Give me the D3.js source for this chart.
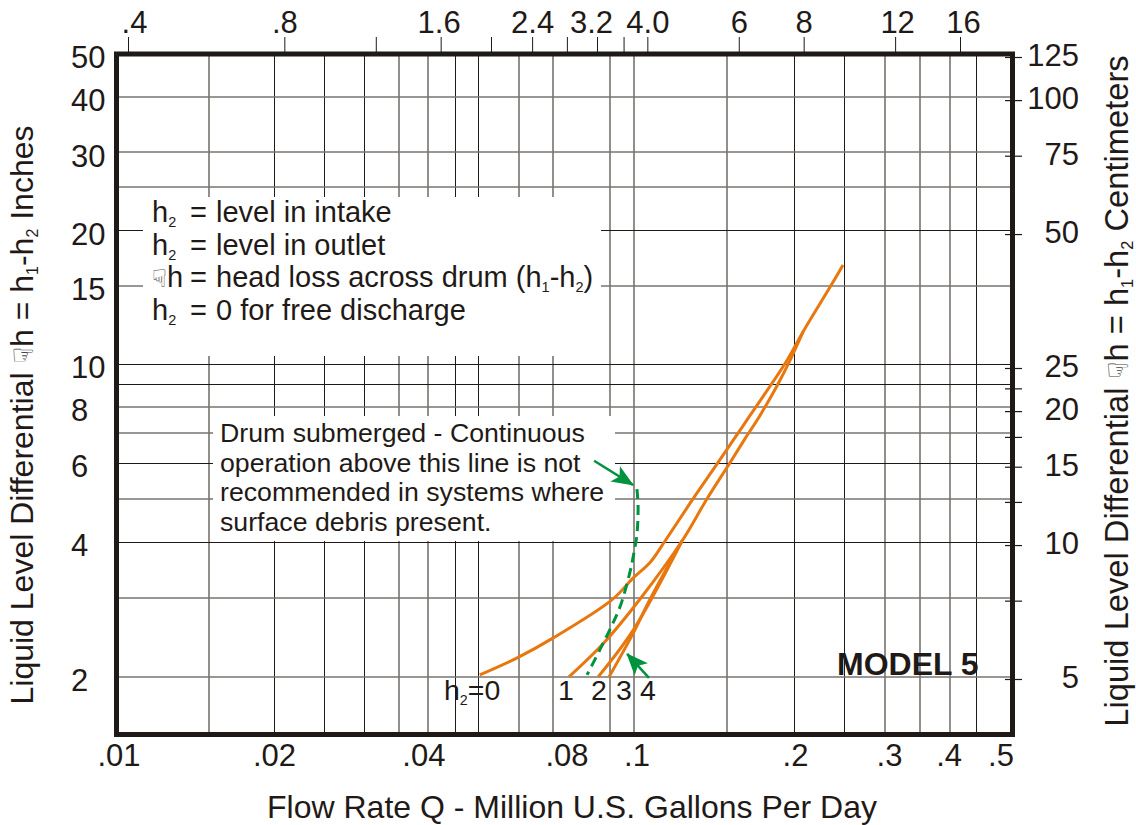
<!DOCTYPE html>
<html>
<head>
<meta charset="utf-8">
<script src="https://cdn.jsdelivr.net/npm/d3@7"></script>
<style>
	html, body { margin: 0; padding: 0; background: #fff; }
	svg { display: block; }
	text { font-family: "Liberation Sans", Arial, sans-serif; fill: #1f1a17; }
	.axis .domain { display: none; }
</style>
</head>
<body>
<div id="chart"></div>
<script>
// Values. x is Million U.S. Gallons Per Day, y is inches.
const h0Flow = [.0504, .0598, .0698, .0908, .1, .1074, .1141, .1293, .144, .1654, .1924, .21, .2358, .2488];
const h0Head = [2.02, 2.21, 2.44, 2.97, 3.33, 3.6, 3.99, 4.99, 6.01, 7.66, 10, 12, 15, 16.7];
const h1Flow = [.075, .0873, .1028, .1233, .1373, .1517, .1619, .1727, .1858, .1967, .2082];
const h1Head = [2, 2.37, 2.98, 4.02, 4.99, 6.01, 6.8, 7.66, 8.91, 10.18, 11.78];
const h2Flow = [.0854, .1, .1233];
const h2Head = [2, 2.55, 4.02];
const h3Flow = [.0897, .1, .1074, .1233];
const h3Head = [2, 2.51, 2.98, 4.02];
const submergedFlow = [.1015, .102, .1015, .1002, .0984, .0942, .09, .0861, .0813];
const submergedHead = [5.25, 4.81, 4.16, 3.79, 3.42, 2.87, 2.55, 2.3, 2.02];

const xGridLight = [.015, .035, .04, .06, .07, .09, .1, .15, .3, .35, .4];
const xGridDark = [.02, .025, .03, .045, .05, .2, .25, .45];
const yGridLight = [2, 3, 5, 7, 8, 15, 25, 30, 40];
const yGridDark = [4, 6, 9, 10, 20];

const bottomLabels = [.01, .02, .04, .08, .1, .2, .3, .4, .5];
const leftLabels = [2, 4, 6, 8, 10, 15, 20, 30, 40, 50];
const topTicks = [.4, .8, 1.2, 1.6, 2, 2.4, 2.8, 3.2, 3.6, 4, 6, 8, 12, 16];
const topLabels = {0.4: '.4', 0.8: '.8', 1.6: '1.6', 2.4: '2.4', 3.2: '3.2', 4: '4.0', 6: '6', 8: '8', 12: '12', 16: '16'};
const rightTicks = [5, 7.5, 10, 12.5, 15, 17.5, 20, 22.5, 25, 50, 75, 100, 125];
const rightLabels = [5, 10, 15, 20, 25, 50, 75, 100, 125];

const legendNames = ['h', 'h', 'h', 'h'];
const legendRows = ['level in intake', 'level in outlet', 'head loss across drum (h', '0 for free discharge'];
const noteLines = ['Drum submerged - Continuous', 'operation above this line is not', 'recommended in systems where', 'surface debris present.'];

const arrowTail = [[.0839, 6.07], [.1069, 1.99]];
const arrowTip = [[.0998, 5.36], [.0972, 2.25]];

const width = 1136,
	height = 825,
	ink = '#1f1a17',
	orange = '#e8770e',
	green = '#00933f';

// the printed paper is not a perfectly even log grid, so the scales have a few knots
const x = d3.scaleLog()
	.domain([.01, .02, .05, .1, .2, .45, .5])
	.range([116.5, 274, 478, 633.5, 794, 976, 1012.5]);

const y = d3.scaleLog()
	.domain([1.487, 4, 10, 50])
	.range([734.5, 542, 363.5, 54]);

const xTop = d3.scaleLog().domain([.4, 16]).range([128, 960]);
const yRight = d3.scaleLog().domain([5, 125]).range([679, 57]);

const svg = d3.select('#chart').append('svg')
	.attr('width', width)
	.attr('height', height);

const defs = svg.append('defs');
defs.append('marker')
	.attr('id', 'arrow')
	.attr('viewBox', '0 0 22 20')
	.attr('refX', 21)
	.attr('refY', 10)
	.attr('markerUnits', 'userSpaceOnUse')
	.attr('markerWidth', 22)
	.attr('markerHeight', 20)
	.attr('orient', 'auto')
	.append('path')
	.attr('d', 'M22,10 L0,1 L5,10 L0,19 Z')
	.attr('fill', green);

// ### grid
const grid = svg.append('g').attr('class', 'grid');

function vLines(values, cls, offset) {
	grid.selectAll('line.' + cls)
		.data(values)
		.enter().append('line')
		.attr('class', cls)
		.attr('x1', d => Math.round(x(d)) + offset)
		.attr('x2', d => Math.round(x(d)) + offset)
		.attr('y1', y(50))
		.attr('y2', y(1.487));
}

function hLines(values, cls, offset) {
	grid.selectAll('line.' + cls)
		.data(values)
		.enter().append('line')
		.attr('class', cls)
		.attr('x1', x(.01))
		.attr('x2', x(.5))
		.attr('y1', d => Math.round(y(d)) + offset)
		.attr('y2', d => Math.round(y(d)) + offset);
}

vLines(xGridLight, 'light', 0);
vLines(xGridDark, 'dark', .5);
hLines(yGridLight, 'hlight', 0);
hLines(yGridDark, 'hdark', .5);

grid.selectAll('.light, .hlight').attr('stroke', '#77736f').attr('stroke-width', 1.6);
grid.selectAll('.dark, .hdark').attr('stroke', ink).attr('stroke-width', 1);

// white boxes that knock the grid out behind the notes
svg.append('rect').attr('x', 143).attr('y', 197).attr('width', 458).attr('height', 159).attr('fill', '#fff');
svg.append('rect').attr('x', 213).attr('y', 416).attr('width', 402).attr('height', 125).attr('fill', '#fff');

// ### curves
const line = d3.line()
	.x(d => x(d[0]))
	.y(d => y(d[1]))
	.curve(d3.curveCatmullRom.alpha(.5));

const curves = [
	d3.zip(h0Flow, h0Head),
	d3.zip(h1Flow, h1Head),
	d3.zip(h2Flow, h2Head),
	d3.zip(h3Flow, h3Head)
];

svg.append('g').selectAll('path')
	.data(curves)
	.enter().append('path')
	.attr('d', line)
	.attr('fill', 'none')
	.attr('stroke', orange)
	.attr('stroke-width', 3);

svg.append('path')
	.attr('d', line(d3.zip(submergedFlow, submergedHead)))
	.attr('fill', 'none')
	.attr('stroke', green)
	.attr('stroke-width', 3)
	.attr('stroke-dasharray', '10 6');

svg.append('g').selectAll('line')
	.data(d3.zip(arrowTail, arrowTip))
	.enter().append('line')
	.attr('x1', d => x(d[0][0]))
	.attr('y1', d => y(d[0][1]))
	.attr('x2', d => x(d[1][0]))
	.attr('y2', d => y(d[1][1]))
	.attr('stroke', green)
	.attr('stroke-width', 2.6)
	.attr('marker-end', 'url(#arrow)');

// ### frame
svg.append('rect')
	.attr('x', x(.01))
	.attr('y', y(50))
	.attr('width', x(.5) - x(.01))
	.attr('height', y(1.487) - y(50))
	.attr('fill', 'none')
	.attr('stroke', ink)
	.attr('stroke-width', 5);

// ### axes
const tickFont = 31;

const bottomAxis = svg.append('g')
	.attr('class', 'axis')
	.attr('transform', `translate(0,${y(1.487)})`)
	.call(d3.axisBottom(x).tickValues(bottomLabels).tickSize(0).tickPadding(9)
		.tickFormat(d => String(d).replace('0.', '.')));
bottomAxis.selectAll('text')
	.style('font-size', tickFont + 'px')
	.attr('dx', d => ({.04: -5, .08: -17, .1: 3, .2: 1, .3: 4, .4: -1, .5: -12, .01: 2})[d] || 0);

const leftAxis = svg.append('g')
	.attr('class', 'axis')
	.attr('transform', 'translate(71,0)')
	.call(d3.axisLeft(y).tickValues(leftLabels).tickSize(0).tickPadding(0).tickFormat(d => d));
leftAxis.selectAll('text')
	.style('font-size', tickFont + 'px')
	.attr('text-anchor', 'start')
	.attr('x', 0)
	.attr('dy', '.45em');

const topAxis = svg.append('g')
	.attr('class', 'axis')
	.attr('transform', `translate(0,${y(50) - 1})`)
	.call(d3.axisTop(xTop).tickValues(topTicks).tickSize(16).tickPadding(4).tickFormat(d => topLabels[d] || ''));
topAxis.selectAll('line').attr('stroke', ink).attr('stroke-width', 1);
topAxis.selectAll('text')
	.filter(d => !topLabels[d])
	.remove();
topAxis.selectAll('text')
	.style('font-size', tickFont + 'px')
	.attr('dx', d => ({.4: 6, 1.6: -2, 3.2: -6, 12: 2, 16: 3})[d] || 0);

const rightAxis = svg.append('g')
	.attr('class', 'axis')
	.attr('transform', 'translate(1005,0)')
	.call(d3.axisRight(yRight).tickValues(rightTicks).tickSize(17)
		.tickFormat(d => rightLabels.includes(d) ? d : ''));
rightAxis.selectAll('line').attr('stroke', ink).attr('stroke-width', 1.2);
rightAxis.selectAll('text')
	.filter(d => !rightLabels.includes(d))
	.remove();
rightAxis.selectAll('text')
	.style('font-size', tickFont + 'px')
	.attr('text-anchor', 'end')
	.attr('x', 74)
	.attr('dy', '.28em');

// ### text helpers
function sub(text, value) {
	text.append('tspan')
		.attr('dy', 5)
		.style('font-size', '.5em')
		.text(value);
}

// next run of text after a subscript, back up on the baseline
function afterSub(text, value) {
	text.append('tspan')
		.attr('dy', -5)
		.text(value);
}

function hand(text) {
	text.append('tspan')
		.style('font-family', '"DejaVu Sans"')
		.style('font-size', '.85em')
		.style('fill', '#4a4643')
		.text('\u261f');
}

function axisTitle(cx, cy, end, size) {
	const t = svg.append('text')
		.attr('transform', `translate(${cx},${cy}) rotate(-90)`)
		.attr('text-anchor', 'middle')
		.style('font-size', size + 'px');
	t.append('tspan').text('Liquid Level Differential ');
	hand(t);
	t.append('tspan').text('h = h');
	sub(t, '1');
	afterSub(t, '-h');
	sub(t, '2');
	afterSub(t, end);
}

axisTitle(33, 415, ' Inches', 32);
axisTitle(1128, 391, ' Centimeters', 32.7);

svg.append('text')
	.attr('x', 572)
	.attr('y', 818)
	.attr('text-anchor', 'middle')
	.style('font-size', '32px')
	.text('Flow Rate Q - Million U.S. Gallons Per Day');

// ### legend box
const legendY = d3.scaleLinear().domain([0, 3]).range([222, 320]);

legendRows.forEach((row, i) => {
	const name = svg.append('text')
		.attr('x', 152)
		.attr('y', legendY(i))
		.style('font-size', '29px');
	if (i === 2) {
		hand(name);
		name.append('tspan').text(legendNames[i]);
	} else {
		name.append('tspan').text(legendNames[i]);
		sub(name, '2');
	}
	svg.append('text')
		.attr('x', 190)
		.attr('y', legendY(i))
		.style('font-size', '29px')
		.text('=');
	const label = svg.append('text')
		.attr('x', 216)
		.attr('y', legendY(i))
		.style('font-size', '29px');
	label.append('tspan').text(row);
	if (i === 2) {
		sub(label, '1');
		afterSub(label, '-h');
		sub(label, '2');
		afterSub(label, ')');
	}
});

// ### note box
const noteY = d3.scaleLinear().domain([0, 3]).range([442, 531]);

svg.append('g').selectAll('text')
	.data(noteLines)
	.enter().append('text')
	.attr('x', 220)
	.attr('y', (d, i) => noteY(i))
	.style('font-size', '26.7px')
	.text(d => d);

// ### curve labels
const h0Label = svg.append('text')
	.attr('x', 444)
	.attr('y', 700)
	.style('font-size', '28.5px');
h0Label.append('tspan').text('h');
sub(h0Label, '2');
afterSub(h0Label, '=0');

svg.append('g').selectAll('text')
	.data(['1', '2', '3', '4'])
	.enter().append('text')
	.attr('x', (d, i) => [566, 599, 624, 648][i])
	.attr('y', 700)
	.attr('text-anchor', 'middle')
	.style('font-size', '28.5px')
	.text(d => d);

svg.append('text')
	.attr('x', 837)
	.attr('y', 675)
	.style('font-size', '32px')
	.style('font-weight', 'bold')
	.text('MODEL 5');
</script>
</body>
</html>
